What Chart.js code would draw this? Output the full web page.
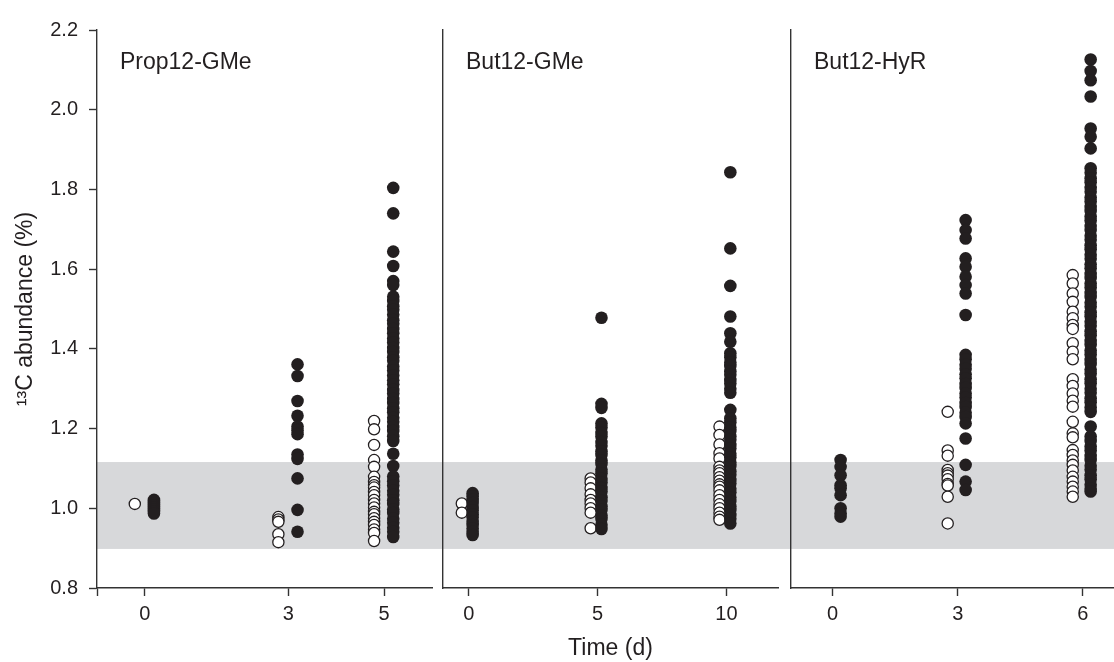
<!DOCTYPE html>
<html>
<head>
<meta charset="utf-8">
<title>13C abundance over time</title>
<script src="https://cdn.jsdelivr.net/npm/chart.js@4.4.1/dist/chart.umd.min.js"></script>
<style>
  html, body { margin: 0; padding: 0; background: #fff; }
  #wrap { position: relative; width: 1114px; height: 662px; }
  #wrap canvas { position: absolute; left: 0; top: 0; }
</style>
</head>
<body>
<div id="wrap">
  <canvas id="panel1" width="1114" height="662"></canvas>
  <canvas id="panel2" width="1114" height="662"></canvas>
  <canvas id="panel3" width="1114" height="662"></canvas>
</div>
<script>
//-----------------------------------------------------
// DATA
//-----------------------------------------------------
const panelNames = ["Prop12-GMe", "But12-GMe", "But12-HyR"];
const yTicks = [0.8, 1.0, 1.2, 1.4, 1.6, 1.8, 2.0, 2.2];
const bandLow = 0.898;
const bandHigh = 1.116;

// Prop12-GMe
const prop12Days = [0, 3, 5];
const prop12Open = [
  [1.011],
  [0.978, 0.972, 0.966, 0.935, 0.915],
  [1.219, 1.198, 1.159, 1.121, 1.104, 1.079, 1.066, 1.058, 1.052, 1.041, 1.033, 1.021,
   1.012, 1.002, 0.991, 0.985, 0.975, 0.966, 0.958, 0.947, 0.938, 0.918]
];
const prop12Filled = [
  [1.021, 1.016, 1.011, 1.006, 1.001, 0.996, 0.991, 0.987],
  [1.361, 1.332, 1.269, 1.232, 1.205, 1.196, 1.186, 1.135, 1.124, 1.075, 0.996, 0.941],
  [1.804, 1.740, 1.644, 1.608, 1.570, 1.560, 1.531, 1.520, 1.507, 1.498, 1.486, 1.472,
   1.463, 1.450, 1.439, 1.426, 1.416, 1.402, 1.392, 1.379, 1.370, 1.356, 1.346, 1.333,
   1.321, 1.311, 1.297, 1.288, 1.274, 1.264, 1.251, 1.241, 1.227, 1.217, 1.204, 1.194,
   1.181, 1.169, 1.137, 1.106, 1.080, 1.068, 1.057, 1.044, 1.034, 1.020, 1.011, 0.997,
   0.988, 0.974, 0.964, 0.951, 0.941, 0.928]
];

// But12-GMe
const but12GMeDays = [0, 5, 10];
const but12GMeOpen = [
  [1.012, 0.989],
  [1.075, 1.065, 1.050, 1.035, 1.021, 1.012, 1.000, 0.989, 0.950],
  [1.205, 1.184, 1.160, 1.138, 1.125, 1.104, 1.095, 1.088, 1.078, 1.069, 1.060, 1.054,
   1.045, 1.033, 1.021, 1.010, 1.000, 0.989, 0.979, 0.971]
];
const but12GMeFilled = [
  [1.038, 1.030, 1.021, 1.013, 1.003, 0.995, 0.985, 0.977, 0.966, 0.958, 0.949, 0.941, 0.933],
  [1.478, 1.262, 1.252, 1.213, 1.203, 1.189, 1.180, 1.166, 1.157, 1.143, 1.134, 1.120,
   1.111, 1.097, 1.088, 1.074, 1.065, 1.051, 1.042, 1.028, 1.019, 1.005, 0.996, 0.982,
   0.973, 0.959, 0.948],
  [1.843, 1.652, 1.558, 1.481, 1.439, 1.418, 1.389, 1.379, 1.366, 1.357, 1.344, 1.335,
   1.322, 1.313, 1.300, 1.290, 1.247, 1.226, 1.216, 1.203, 1.194, 1.181, 1.172, 1.159,
   1.150, 1.137, 1.128, 1.115, 1.106, 1.093, 1.084, 1.071, 1.062, 1.049, 1.040, 1.027,
   1.018, 1.005, 0.996, 0.983, 0.974, 0.962]
];

// But12-HyR
const but12HyRDays = [0, 3, 6];
const but12HyROpen = [
  [],
  [1.242, 1.145, 1.132, 1.096, 1.088, 1.082, 1.073, 1.061, 1.057, 1.029, 0.962],
  [1.585, 1.564, 1.539, 1.518, 1.493, 1.477, 1.460, 1.450, 1.414, 1.393, 1.374, 1.324,
   1.307, 1.288, 1.270, 1.255, 1.217, 1.188, 1.178, 1.146, 1.134, 1.120, 1.109, 1.095,
   1.079, 1.067, 1.054, 1.042, 1.029]
];
const but12HyRFilled = [
  [1.121, 1.104, 1.083, 1.058, 1.050, 1.033, 1.000, 0.987, 0.979],
  [1.723, 1.698, 1.677, 1.627, 1.606, 1.581, 1.560, 1.539, 1.485, 1.385, 1.374, 1.360,
   1.350, 1.336, 1.326, 1.312, 1.302, 1.288, 1.278, 1.264, 1.254, 1.240, 1.229, 1.213,
   1.175, 1.109, 1.067, 1.046],
  [2.126, 2.097, 2.074, 2.033, 1.953, 1.932, 1.903, 1.853, 1.842, 1.828, 1.818, 1.804,
   1.794, 1.780, 1.770, 1.756, 1.746, 1.732, 1.722, 1.708, 1.698, 1.684, 1.674, 1.660,
   1.650, 1.636, 1.626, 1.612, 1.602, 1.588, 1.578, 1.564, 1.554, 1.540, 1.530, 1.516,
   1.506, 1.492, 1.482, 1.468, 1.458, 1.444, 1.434, 1.420, 1.410, 1.396, 1.386, 1.372,
   1.362, 1.348, 1.338, 1.324, 1.314, 1.300, 1.290, 1.276, 1.266, 1.253, 1.242, 1.205,
   1.180, 1.169, 1.155, 1.145, 1.131, 1.121, 1.107, 1.097, 1.083, 1.073, 1.059, 1.049, 1.042]
];

//-----------------------------------------------------
// STYLE / LAYOUT
//-----------------------------------------------------
const W = 1114;
const FONT = '"Liberation Sans", Arial, Helvetica, sans-serif';
const ink = "#231f20";
const axisColor = "#333333";
const bandColor = "#d7d8da";

Chart.defaults.font.family = FONT;
Chart.defaults.color = ink;

const panels = [
  { canvas: "panel1", name: panelNames[0], days: prop12Days, open: prop12Open, filled: prop12Filled,
    xMin: -1, xMax: 6, left: 0, right: W - 432, bandEnd: 443, dodge: [-0.21, 0.19], first: true },
  { canvas: "panel2", name: panelNames[1], days: but12GMeDays, open: but12GMeOpen, filled: but12GMeFilled,
    xMin: -1, xMax: 12, left: 443, right: W - 778, bandEnd: 791, dodge: [-0.27, 0.15], xTitle: "Time (d)" },
  { canvas: "panel3", name: panelNames[2], days: but12HyRDays, open: but12HyROpen, filled: but12HyRFilled,
    xMin: -1, xMax: 6.75, left: 791, right: 0, bandEnd: W, dodge: [-0.24, 0.19] }
];

//-----------------------------------------------------
// PLUGINS
//-----------------------------------------------------
const bandPlugin = {
  id: "band",
  beforeDraw(chart, args, opts) {
    const { ctx, chartArea, scales } = chart;
    const top = scales.y.getPixelForValue(bandHigh);
    const bottom = scales.y.getPixelForValue(bandLow);
    ctx.save();
    ctx.fillStyle = bandColor;
    ctx.fillRect(chartArea.left, top, opts.bandEnd - chartArea.left, bottom - top);
    ctx.restore();
  }
};

const panelLabelPlugin = {
  id: "panelLabel",
  afterDraw(chart, args, opts) {
    const { ctx, chartArea } = chart;
    ctx.save();
    ctx.font = "23px " + FONT;
    ctx.fillStyle = ink;
    ctx.textBaseline = "alphabetic";
    ctx.textAlign = "left";
    ctx.fillText(opts.text, chartArea.left + 23, chartArea.top + 39);
    ctx.restore();
  }
};

//-----------------------------------------------------
// BUILD PANELS
//-----------------------------------------------------
panels.forEach((p) => {
  const openPts = [];
  const filledPts = [];
  p.days.forEach((d, i) => {
    p.open[i].forEach((v) => openPts.push({ x: d + p.dodge[0], y: v }));
    p.filled[i].forEach((v) => filledPts.push({ x: d + p.dodge[1], y: v }));
  });

  const xTickValues = p.first ? [p.xMin, ...p.days] : p.days;

  const yScale = p.first
    ? {
        min: 0.8, max: 2.2,
        afterBuildTicks: (s) => { s.ticks = yTicks.map((v) => ({ value: v })); },
        afterFit: (s) => { s.width = 97; },
        ticks: { callback: (v) => Number(v).toFixed(1), font: { size: 20 }, color: ink, padding: 11 },
        grid: { drawOnChartArea: false, tickLength: 8, tickColor: axisColor, tickWidth: 1.4 },
        border: { color: axisColor, width: 1.4 },
        title: { display: true, text: "¹³C abundance (%)", font: { size: 23 }, color: ink, padding: { top: 12, bottom: 0 } }
      }
    : {
        min: 0.8, max: 2.2,
        afterFit: (s) => { s.width = 0; },
        ticks: { display: false },
        grid: { display: false },
        border: { display: true, color: axisColor, width: 1.4 }
      };

  new Chart(document.getElementById(p.canvas), {
    type: "scatter",
    data: {
      datasets: [
        {
          label: "open",
          data: openPts,
          pointRadius: 5.6,
          pointBackgroundColor: "#ffffff",
          pointBorderColor: ink,
          pointBorderWidth: 1.3,
          order: 2
        },
        {
          label: "filled",
          data: filledPts,
          pointRadius: 6.3,
          pointBackgroundColor: ink,
          pointBorderColor: ink,
          pointBorderWidth: 0,
          order: 1
        }
      ]
    },
    options: {
      responsive: false,
      devicePixelRatio: 1,
      animation: false,
      events: [],
      clip: false,
      layout: { autoPadding: false, padding: { left: p.left, right: p.right, top: 30, bottom: 0 } },
      plugins: {
        legend: { display: false },
        tooltip: { enabled: false },
        band: { bandEnd: p.bandEnd },
        panelLabel: { text: p.name }
      },
      scales: {
        x: {
          type: "linear",
          min: p.xMin, max: p.xMax,
          afterBuildTicks: (s) => { s.ticks = xTickValues.map((v) => ({ value: v })); },
          afterFit: (s) => { s.height = 74; s.paddingLeft = 0; s.paddingRight = 0; },
          ticks: {
            callback: (v) => (p.days.includes(v) ? String(v) : ""),
            font: { size: 20 }, color: ink, padding: 6, maxRotation: 0
          },
          grid: { drawOnChartArea: false, tickLength: 8, tickColor: axisColor, tickWidth: 1.4 },
          border: { color: axisColor, width: 1.4 },
          title: {
            display: !!p.xTitle, text: p.xTitle || "",
            font: { size: 23 }, color: ink, padding: { top: 0, bottom: 0 }
          }
        },
        y: yScale
      }
    },
    plugins: [bandPlugin, panelLabelPlugin]
  });
});
</script>
</body>
</html>
